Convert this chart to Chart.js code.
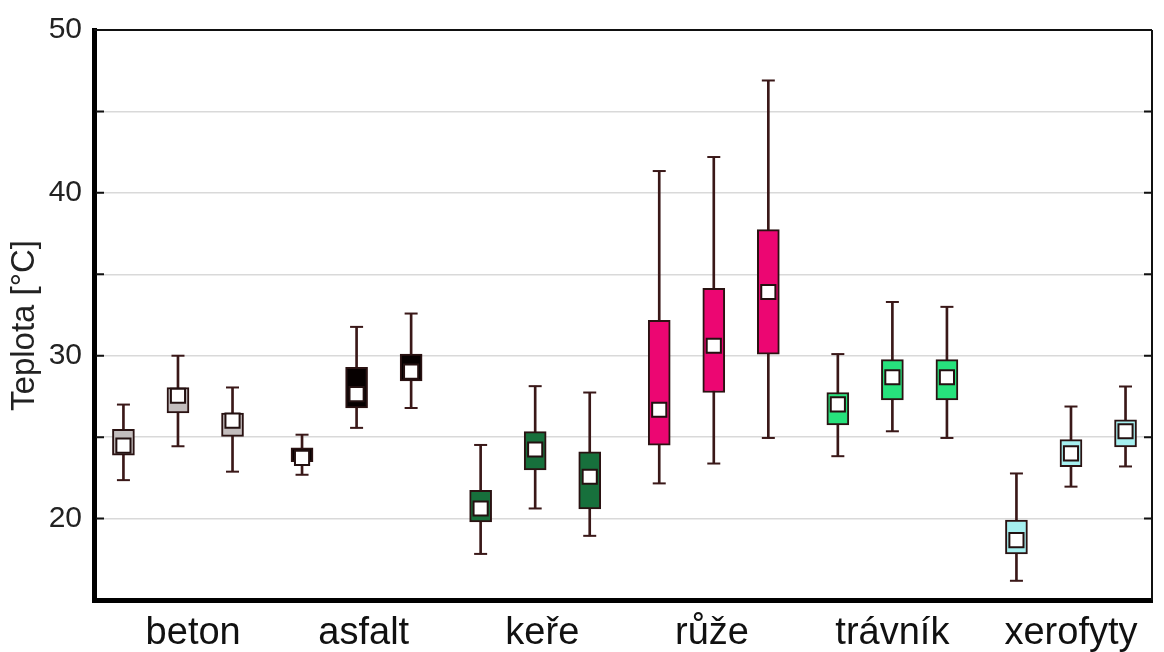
<!DOCTYPE html>
<html><head><meta charset="utf-8">
<script src="https://cdn.jsdelivr.net/npm/chart.js@4.4.1/dist/chart.umd.min.js"></script>
<style>html,body{margin:0;padding:0;background:#fff}#wrap{width:1164px;height:652px}</style>
</head><body><div id="wrap"><canvas id="c" width="1164" height="652"></canvas></div>
<script>
// ---- data ----
const categories = ['beton', 'asfalt', 'keře', 'růže', 'trávník', 'xerofyty'];
const whiskerHigh = [27.0, 30.0, 28.05, 25.15, 31.77, 32.59, 24.52, 28.13, 27.74, 41.34, 42.2, 46.9, 30.1, 33.3, 33.0, 22.77, 26.88, 28.11];
const boxTop      = [25.48, 28.05, 26.48, 24.34, 29.29, 30.1, 21.73, 25.34, 24.1, 32.18, 34.14, 37.74, 27.74, 29.76, 29.76, 19.9, 24.85, 26.07];
const boxBottom   = [23.89, 26.48, 25.05, 23.49, 26.79, 28.45, 19.8, 22.98, 20.6, 24.5, 27.74, 30.1, 25.75, 27.29, 27.29, 17.83, 23.18, 24.4];
const whiskerLow  = [22.36, 24.44, 22.88, 22.69, 25.57, 26.79, 17.83, 20.62, 18.94, 22.16, 23.38, 24.95, 23.83, 25.36, 24.95, 16.18, 21.96, 23.2];
const meanValues  = [24.48, 27.54, 26.01, 23.73, 27.64, 29.02, 20.62, 24.24, 22.57, 26.68, 30.61, 33.91, 27.01, 28.68, 28.68, 18.68, 24.0, 25.36];
const yTickLabels = [20, 30, 40, 50];
const yTitle = 'Teplota [°C]';

// ---- styling / layout ----
const groupColors = ['#c3bdbd', '#060000', '#17703c', '#ec0672', '#27e27c', '#a6f0f0'];
const MEMBERS = 3;
const MEMBER_OFFSET = 0.3054;
const labelShift = [0.085, 0.04, 0.04, -0.01, 0.0, 0.0]; // category label nudges (layout)
const xPos = whiskerHigh.map((_, i) => Math.floor(i / MEMBERS) + (i % MEMBERS - 1) * MEMBER_OFFSET);
const boxFill = whiskerHigh.map((_, i) => groupColors[Math.floor(i / MEMBERS)]);
const lineDark = '#3a1818';
const FONT = '"Liberation Sans", Arial, sans-serif';

const framePlugin = {
  id: 'frame',
  afterDraw(chart) {
    const {ctx, chartArea: {left, right, top, bottom}, scales: {y}} = chart;
    ctx.save();
    ctx.strokeStyle = '#111';
    ctx.lineWidth = 2;
    ctx.beginPath();
    ctx.moveTo(left, top); ctx.lineTo(right, top);
    ctx.moveTo(right, top); ctx.lineTo(right, bottom);
    ctx.stroke();
    y.ticks.forEach(t => {
      if (t.value <= y.min || t.value >= y.max) return;
      const py = y.getPixelForValue(t.value);
      ctx.beginPath();
      ctx.moveTo(left + 2, py); ctx.lineTo(left + 10, py);
      ctx.moveTo(right - 8, py); ctx.lineTo(right, py);
      ctx.stroke();
    });
    ctx.translate(24.5, 325.5);
    ctx.rotate(-Math.PI / 2);
    ctx.fillStyle = '#222';
    ctx.font = '33px ' + FONT;
    ctx.textAlign = 'center';
    ctx.textBaseline = 'middle';
    ctx.fillText(yTitle, 0, 0);
    ctx.restore();
  }
};

new Chart(document.getElementById('c'), {
  type: 'bar',
  data: {
    datasets: [
      {
        type: 'bar', order: 3, grouped: false, barThickness: 2,
        backgroundColor: lineDark,
        data: xPos.map((x, i) => ({x, y: [whiskerLow[i], whiskerHigh[i]]}))
      },
      {
        type: 'bar', order: 2, grouped: false, barThickness: 22,
        backgroundColor: boxFill, borderColor: '#2a1212', borderWidth: 2, borderSkipped: false,
        data: xPos.map((x, i) => ({x, y: [boxBottom[i], boxTop[i]]}))
      },
      {
        type: 'scatter', order: 1, pointStyle: 'line', pointRadius: 6.5,
        borderColor: lineDark, borderWidth: 2,
        data: xPos.map((x, i) => ({x, y: whiskerLow[i]})).concat(xPos.map((x, i) => ({x, y: whiskerHigh[i]})))
      },
      {
        type: 'scatter', order: 0, pointStyle: 'rect', pointRadius: 10,
        backgroundColor: '#ffffff', borderColor: '#231010', borderWidth: 2,
        data: xPos.map((x, i) => ({x, y: meanValues[i]}))
      }
    ]
  },
  options: {
    responsive: false,
    animation: false,
    events: [],
    devicePixelRatio: 1,
    layout: {padding: {top: 28, right: 3, left: 0, bottom: 0}},
    plugins: {legend: {display: false}, tooltip: {enabled: false}},
    scales: {
      x: {
        type: 'linear', offset: false, min: -0.4702, max: 5.4536,
        afterBuildTicks: s => { s.ticks = categories.map((_, i) => ({value: i + labelShift[i]})); },
        afterFit: s => { s.height = 52; },
        grid: {display: false, drawTicks: false},
        border: {display: true, width: 5, color: '#000'},
        ticks: {
          autoSkip: false, maxRotation: 0, padding: 13, color: '#111',
          font: {family: FONT, size: 38, lineHeight: 1.1},
          callback: (v, idx) => categories[idx] ?? ''
        }
      },
      y: {
        type: 'linear', min: 15, max: 50,
        afterFit: s => { s.width = 94; },
        grid: {color: '#d9d9d9', lineWidth: 1.5, drawTicks: false},
        border: {display: true, width: 5, color: '#000'},
        ticks: {
          stepSize: 5, padding: 12, color: '#222',
          font: {family: FONT, size: 30},
          callback: v => yTickLabels.includes(v) ? String(v) : ''
        }
      }
    }
  },
  plugins: [framePlugin]
});
</script>
</body></html>
